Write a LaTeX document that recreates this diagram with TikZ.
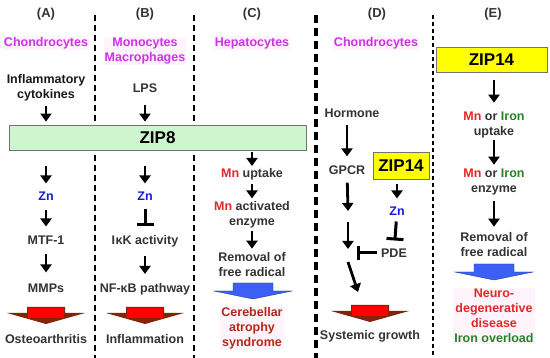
\documentclass[tikz,border=0pt]{standalone}
\usepackage{fontspec}
\setmainfont{Liberation Sans}
\usepackage{tikz}
\usetikzlibrary{positioning, arrows.meta}

\definecolor{zipgreen}{RGB}{206,246,206}
\definecolor{zipyellow}{RGB}{255,255,0}
\definecolor{cellpink}{RGB}{204,51,230}
\definecolor{mnred}{RGB}{225,40,40}
\definecolor{irongreen}{RGB}{40,130,40}
\definecolor{znblue}{RGB}{25,25,220}
\definecolor{outred}{RGB}{180,40,25}
\definecolor{fatblue}{RGB}{60,95,245}
\definecolor{fatred}{RGB}{255,0,0}
\definecolor{fatbrown}{RGB}{130,35,10}
\definecolor{softpink}{RGB}{255,243,252}

\newcommand{\Mn}{\textcolor{mnred}{Mn}}
\newcommand{\Fe}{\textcolor{irongreen}{Iron}}

\begin{document}
\begin{tikzpicture}[
    x=1pt, y=-1pt,
    lbl/.style={font=\bfseries\fontsize{12.5}{15}\selectfont, text=black!80, align=center, inner sep=1pt},
    head/.style={lbl, font=\bfseries\fontsize{13}{15}\selectfont},
    cell/.style={lbl, text=cellpink, fill=softpink},
    zn/.style={lbl, text=znblue},
    zip/.style={draw=black!55, line width=0.8pt, inner sep=0pt, font=\bfseries\fontsize{17}{20}\selectfont},
    arrow/.style={-{Triangle[width=11pt,length=8pt]}, line width=2.8pt},
    block/.style={-{Bar[width=17pt]}, line width=3pt},
    divider/.style={black, line width=1.6pt, dash pattern=on 6pt off 4pt},
    fatblue/.pic={
        \filldraw[fill=fatblue, draw=fatblue!60!black, line width=0.4pt]
            (-20,0) -- (20,0) -- (20,8) -- (39,8) -- (0,16) -- (-39,8) -- (-20,8) -- cycle;
    },
    fatred/.pic={
        \fill[fatbrown] (-19,0) -- (19,0) -- (19,6) -- (39,6) -- (0,17) -- (-39,6) -- (-19,6) -- cycle;
        \fill[fatred] (-18,1.5) rectangle (18,11);
    }
]
    \useasboundingbox (0,0) rectangle (550,358);

    % column dividers
    \draw[divider] (95,15) -- (95,358);
    \draw[divider] (194,15) -- (194,358);
    \draw[divider, line width=3.2pt, dash pattern=on 8pt off 5pt] (316,15) -- (316,358);
    \draw[divider, line width=1.3pt, dash pattern=on 4pt off 3pt] (433,15) -- (433,358);

    % headers and cell types
    \node[head] (headA) at (46,14) {(A)};
    \node[head] (headB) at (145,14) {(B)};
    \node[head] (headC) at (252,14) {(C)};
    \node[head] (headD) at (377,14) {(D)};
    \node[head] (headE) at (493,14) {(E)};
    \node[cell] (cellA) at (46,43) {Chondrocytes};
    \node[cell] (cellB) at (145,51) {Monocytes\\Macrophages};
    \node[cell] (cellC) at (252,43) {Hepatocytes};
    \node[cell] (cellD) at (376,43) {Chondrocytes};

    % ZIP8
    \node[zip, fill=zipgreen, minimum width=297pt, minimum height=25pt] (zip8) at (157.5,137.5) {ZIP8};

    % (A)
    \node[lbl, text=black!90] (cytoA) at (46,88) {Inflammatory\\cytokines};
    \node[zn] (znA) at (46,196) {Zn};
    \node[lbl] (mtfA) at (46,240) {MTF-1};
    \node[lbl] (mmpA) at (46,288) {MMPs};
    \pic at (46,307) {fatred};
    \node[lbl] (outA) at (46,339) {Osteoarthritis};
    \draw[arrow, shorten <=3pt, shorten >=3pt] (cytoA) -- (cytoA |- zip8.north);
    \draw[arrow, shorten <=16pt, shorten >=7pt] (znA |- zip8.south) -- (znA);
    \draw[arrow, shorten <=9pt, shorten >=8pt] (znA) -- (mtfA);
    \draw[arrow, shorten <=9pt, shorten >=10pt] (mtfA) -- (mmpA);

    % (B)
    \node[lbl] (lpsB) at (145,88) {LPS};
    \node[zn] (znB) at (145,196) {Zn};
    \node[lbl] (ikkB) at (145,241) {I\kern0.5pt κK activity};
    \node[lbl] (nfkB) at (145,289) {NF-κB pathway};
    \pic at (145,307) {fatred};
    \node[lbl] (outB) at (145,339) {Inflammation};
    \draw[arrow, shorten <=11pt, shorten >=3pt] (lpsB) -- (lpsB |- zip8.north);
    \draw[arrow, shorten <=16pt, shorten >=7pt] (znB |- zip8.south) -- (znB);
    \draw[block, shorten <=8pt, shorten >=8pt] (znB) -- (ikkB);
    \draw[arrow, shorten <=8pt, shorten >=8pt] (ikkB) -- (nfkB);

    % (C)
    \node[lbl] (mnupC) at (252,174) {\Mn{} uptake};
    \node[lbl] (mnenzC) at (252,215) {\Mn{} activated\\enzyme};
    \node[lbl] (remC) at (252,265) {Removal of\\free radical};
    \pic at (253,283) {fatblue};
    \node[lbl, text=outred, fill=softpink] (outC) at (252,328) {Cerebellar\\atrophy\\syndrome};
    \draw[arrow, shorten <=2pt, shorten >=1pt] (mnupC |- zip8.south) -- (mnupC);
    \draw[arrow, shorten <=3pt, shorten >=2pt] (mnupC) -- (mnenzC);
    \draw[arrow, shorten <=1pt, shorten >=3pt] (mnenzC) -- (remC);

    % (D)
    \node[lbl] (hormD) at (352,113) {Hormone};
    \node[lbl] (gpcrD) at (347,170) {GPCR};
    \node[zip, fill=zipyellow, minimum width=56pt, minimum height=27pt] (zipD) at (401,166) {ZIP14};
    \node[zn] (znD) at (397,211) {Zn};
    \node[lbl] (pdeD) at (394,253) {PDE};
    \coordinate (dA) at (348,211);
    \coordinate (dB) at (348,222);
    \coordinate (dC) at (348,249);
    \coordinate (dD) at (348,262);
    \coordinate (dE) at (358,292);
    \coordinate (dBar) at (357,253);
    \pic at (370,305) {fatred};
    \node[lbl] (outD) at (370,336) {Systemic growth};
    \draw[arrow, shorten <=6pt, shorten >=8pt] (hormD.south -| gpcrD) -- (gpcrD);
    \draw[arrow, shorten <=7pt] (gpcrD) -- (dA);
    \draw[arrow] (dB) -- (dC);
    \draw[arrow] (dD) -- (dE);
    \draw[arrow, shorten <=4pt, shorten >=7pt] (znD |- zipD.south) -- (znD);
    \draw[block, shorten <=5pt, shorten >=7pt] (znD) -- (pdeD);
    \draw[block, -{Bar[width=14pt]}, shorten <=3pt] (pdeD) -- (dBar);

    % (E)
    \node[zip, fill=zipyellow, minimum width=111pt, minimum height=25pt] (zipE) at (491.5,59.5) {ZIP14};
    \node[lbl] (mnupE) at (494,125) {\Mn{} or \Fe\\uptake};
    \node[lbl] (mnenzE) at (494,182) {\Mn{} or \Fe\\enzyme};
    \node[lbl] (remE) at (494,245) {Removal of\\free radical};
    \pic at (494,264) {fatblue};
    \node[lbl, text=mnred, fill=softpink] (outE) at (494,316) {Neuro-\\degenerative\\disease\\\textcolor{irongreen}{Iron overload}};
    \draw[arrow, shorten <=8pt, shorten >=8pt] (mnupE |- zipE.south) -- (mnupE);
    \draw[arrow, shorten <=1pt, shorten >=3pt] (mnupE) -- (mnenzE);
    \draw[arrow, shorten <=5pt, shorten >=5pt] (mnenzE) -- (remE);
\end{tikzpicture}
\end{document}
